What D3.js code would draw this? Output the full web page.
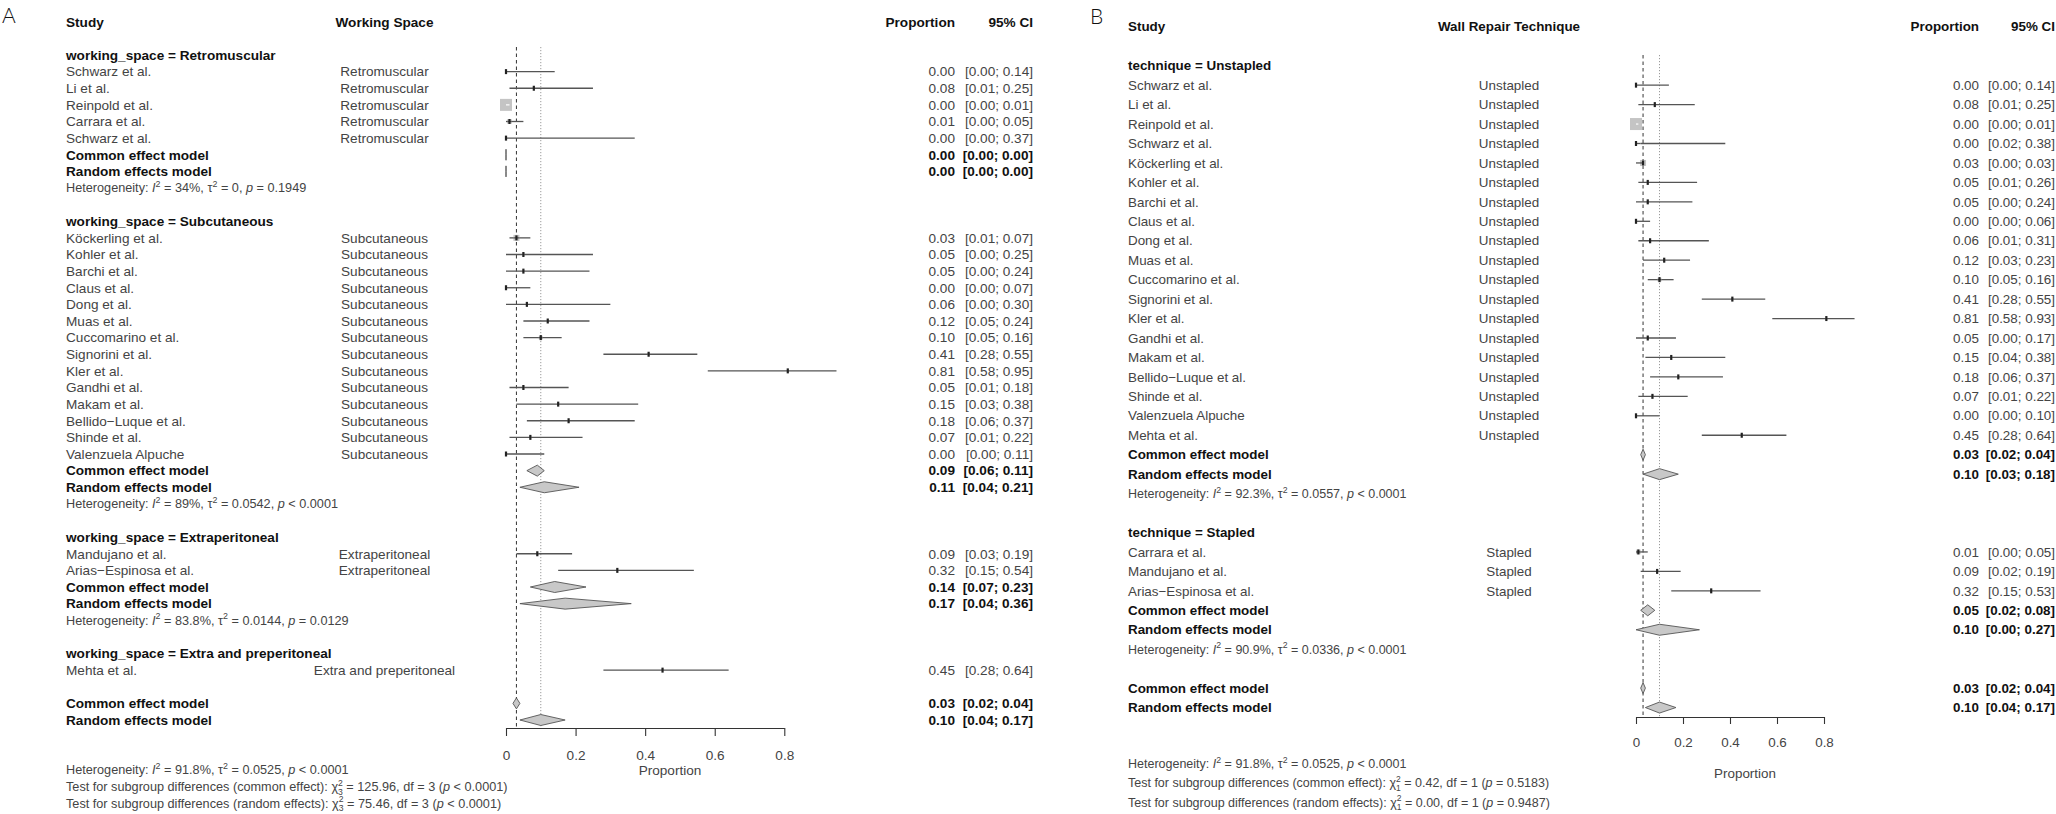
<!DOCTYPE html>
<html><head><meta charset="utf-8">
<script src="https://cdn.jsdelivr.net/npm/d3@7"></script>
<style>
body{margin:0;background:#fff}
svg{display:block}
text{font-family:"Liberation Sans",Arial,sans-serif}
</style>
</head><body>
<svg id="chart" width="2056" height="814"></svg>
<script>
// ================= DATA: Panel A (working space) =================
const aGroups = ["Retromuscular", "Subcutaneous", "Extraperitoneal", "Extra and preperitoneal"];
const aStudies = ["Schwarz et al.", "Li et al.", "Reinpold et al.", "Carrara et al.", "Schwarz et al.",
  "Köckerling et al.", "Kohler et al.", "Barchi et al.", "Claus et al.", "Dong et al.", "Muas et al.",
  "Cuccomarino et al.", "Signorini et al.", "Kler et al.", "Gandhi et al.", "Makam et al.",
  "Bellido\u2212Luque et al.", "Shinde et al.", "Valenzuela Alpuche",
  "Mandujano et al.", "Arias\u2212Espinosa et al.", "Mehta et al."];
const aGroupIdx = [0,0,0,0,0, 1,1,1,1,1,1,1,1,1,1,1,1,1,1, 2,2, 3];
const aEst  = [0.00,0.08,0.00,0.01,0.00, 0.03,0.05,0.05,0.00,0.06,0.12,0.10,0.41,0.81,0.05,0.15,0.18,0.07,0.00, 0.09,0.32, 0.45];
const aLow  = [0.00,0.01,0.00,0.00,0.00, 0.01,0.00,0.00,0.00,0.00,0.05,0.05,0.28,0.58,0.01,0.03,0.06,0.01,0.00, 0.03,0.15, 0.28];
const aHigh = [0.14,0.25,0.01,0.05,0.37, 0.07,0.25,0.24,0.07,0.30,0.24,0.16,0.55,0.95,0.18,0.38,0.37,0.22,0.11, 0.19,0.54, 0.64];
const aWeight = [1.2,1.2,48,7,0.8, 12,1.2,1.2,1.4,1.0,1.6,5,1.6,0.9,1.4,1.0,1.1,1.3,1.4, 1.5,1.0, 1.0];
const aCommon = [[0.00,0.00,0.00],[0.09,0.06,0.11],[0.14,0.07,0.23],null];
const aRandom = [[0.00,0.00,0.00],[0.11,0.04,0.21],[0.17,0.04,0.36],null];
const aHetI2   = ["34%", "89%", "83.8%", null];
const aHetTau2 = ["0", "0.0542", "0.0144", null];
const aHetP    = ["= 0.1949", "< 0.0001", "= 0.0129", null];
const aOverallCommon = [0.03,0.02,0.04];
const aOverallRandom = [0.10,0.04,0.17];
const aOverallHet = ["91.8%", "0.0525", "< 0.0001"];
const aTestCommon = ["3", "125.96", "3", "< 0.0001"];   // subscript df, chi2, df, p
const aTestRandom = ["3", "75.46", "3", "< 0.0001"];

// ================= DATA: Panel B (wall repair technique) =================
const bGroups = ["Unstapled", "Stapled"];
const bStudies = ["Schwarz et al.", "Li et al.", "Reinpold et al.", "Schwarz et al.", "Köckerling et al.",
  "Kohler et al.", "Barchi et al.", "Claus et al.", "Dong et al.", "Muas et al.", "Cuccomarino et al.",
  "Signorini et al.", "Kler et al.", "Gandhi et al.", "Makam et al.", "Bellido\u2212Luque et al.",
  "Shinde et al.", "Valenzuela Alpuche", "Mehta et al.",
  "Carrara et al.", "Mandujano et al.", "Arias\u2212Espinosa et al."];
const bGroupIdx = [0,0,0,0,0,0,0,0,0,0,0,0,0,0,0,0,0,0,0, 1,1,1];
const bEst  = [0.00,0.08,0.00,0.00,0.03,0.05,0.05,0.00,0.06,0.12,0.10,0.41,0.81,0.05,0.15,0.18,0.07,0.00,0.45, 0.01,0.09,0.32];
const bLow  = [0.00,0.01,0.00,0.02,0.00,0.01,0.00,0.00,0.01,0.03,0.05,0.28,0.58,0.00,0.04,0.06,0.01,0.00,0.28, 0.00,0.02,0.15];
const bHigh = [0.14,0.25,0.01,0.38,0.03,0.26,0.24,0.06,0.31,0.23,0.16,0.55,0.93,0.17,0.38,0.37,0.22,0.10,0.64, 0.05,0.19,0.53];
const bWeight = [1.2,1.2,48,0.8,12,1.2,1.2,1.4,1.0,1.6,5,1.6,0.9,1.4,1.0,1.1,1.3,1.4,1.0, 7,1.5,1.0];
const bCommon = [[0.03,0.02,0.04],[0.05,0.02,0.08]];
const bRandom = [[0.10,0.03,0.18],[0.10,0.00,0.27]];
const bHetI2   = ["92.3%", "90.9%"];
const bHetTau2 = ["0.0557", "0.0336"];
const bHetP    = ["< 0.0001", "< 0.0001"];
const bOverallCommon = [0.03,0.02,0.04];
const bOverallRandom = [0.10,0.04,0.17];
const bOverallHet = ["91.8%", "0.0525", "< 0.0001"];
const bTestCommon = ["1", "0.42", "1", "= 0.5183"];
const bTestRandom = ["1", "0.00", "1", "= 0.9487"];

const xTicks = [0, 0.2, 0.4, 0.6, 0.8];
const xDomain = [0, 0.8];

// ================= DRAWING =================
const svg = d3.select("#chart");
const REG = "#444", BOLD = "#111";
const f2 = d3.format(".2f");

function txt(g, x, y, s, fs, opt = {}) {
  return g.append("text").attr("x", x).attr("y", y + fs * 0.35)
    .attr("text-anchor", opt.anchor || "start")
    .attr("fill", opt.bold ? BOLD : (opt.color || REG))
    .style("font-size", fs + "px")
    .style("font-weight", opt.bold ? "bold" : "normal")
    .text(s);
}

function hetLine(g, x, y, fs, i2, tau2, p) {
  const t = g.append("text").attr("x", x).attr("y", y + fs * 0.35).attr("fill", REG).style("font-size", fs + "px");
  const up = fs * 0.42, ss = (fs * 0.7) + "px";
  t.append("tspan").text("Heterogeneity: ");
  t.append("tspan").style("font-style", "italic").text("I");
  t.append("tspan").attr("dy", -up).style("font-size", ss).text("2");
  t.append("tspan").attr("dy", up).text(` = ${i2}, \u03C4`);
  t.append("tspan").attr("dy", -up).style("font-size", ss).text("2");
  t.append("tspan").attr("dy", up).text(` = ${tau2}, `);
  t.append("tspan").style("font-style", "italic").text("p");
  t.append("tspan").text(` ${p}`);
}

function testLine(g, x, y, fs, label, T) {
  const t = g.append("text").attr("x", x).attr("y", y + fs * 0.35).attr("fill", REG).style("font-size", fs + "px");
  const up = fs * 0.42, dn = fs * 0.70, ss = fs * 0.68;
  t.append("tspan").text(`Test for subgroup differences (${label}): \u03C7`);
  t.append("tspan").attr("dy", -up).style("font-size", ss + "px").text("2");
  t.append("tspan").attr("dx", -ss * 0.556).attr("dy", dn).style("font-size", ss + "px").text(T[0]);
  t.append("tspan").attr("dy", up - dn).text(` = ${T[1]}, df = ${T[2]} (`);
  t.append("tspan").style("font-style", "italic").text("p");
  t.append("tspan").text(` ${T[3]})`);
}

function drawPanel(P, D) {
  const g = svg.append("g");
  const x = d3.scaleLinear().domain(xDomain).range([P.x0px, P.x1px]);
  const y = k => P.rowY0 + k * P.rowH;
  const sq = d3.scaleSqrt().domain([0, d3.max(D.weight)]).range([0, P.maxSquare]);

  // panel letter
  g.append("text").attr("x", P.letterX).attr("y", P.letterY).text(P.letter)
    .attr("fill", "#111")
    .style("font-family", "Lato,'Liberation Sans',sans-serif").style("font-weight", 300)
    .style("font-size", P.letterSize + "px");

  // column headers
  txt(g, P.textX, P.headerY, "Study", P.fs, {bold: true});
  txt(g, P.colCenter, P.headerY, P.colHeader, P.fs, {bold: true, anchor: "middle"});
  txt(g, P.estRight, P.headerY, "Proportion", P.fs, {bold: true, anchor: "end"});
  txt(g, P.ciRight, P.headerY, "95% CI", P.fs, {bold: true, anchor: "end"});

  // build the row layout
  const rows = [];
  let k = 0;
  D.groups.forEach((name, gi) => {
    rows.push({type: "heading", k: k++, label: `${P.prefix} = ${name}`});
    D.studies.forEach((s, i) => { if (D.groupIdx[i] === gi) rows.push({type: "study", k: k++, i}); });
    if (D.common[gi]) {
      rows.push({type: "common", k: k++, v: D.common[gi]});
      rows.push({type: "random", k: k++, v: D.random[gi]});
      rows.push({type: "het", k: k++, gi});
    }
    k++;
  });
  rows.push({type: "common", k: k++, v: D.overallCommon});
  rows.push({type: "random", k: k++, v: D.overallRandom});
  const lastK = k - 1;

  // reference lines
  g.append("line").attr("x1", x(D.overallCommon[0])).attr("x2", x(D.overallCommon[0]))
    .attr("y1", P.refTop).attr("y2", P.axisY)
    .attr("stroke", "#333").attr("stroke-width", 1).attr("stroke-dasharray", "3.5,3");
  g.append("line").attr("x1", x(D.overallRandom[0])).attr("x2", x(D.overallRandom[0]))
    .attr("y1", P.refTop).attr("y2", P.axisY)
    .attr("stroke", "#9a9a9a").attr("stroke-width", 1).attr("stroke-dasharray", "1.2,1.8");

  const diamond = (v, yy) => {
    const h = P.diamondH;
    return `M${x(v[1])},${yy}L${x(v[0])},${yy - h}L${x(v[2])},${yy}L${x(v[0])},${yy + h}Z`;
  };

  rows.forEach(r => {
    const yy = y(r.k);
    if (r.type === "heading") {
      txt(g, P.textX, yy, r.label, P.fs, {bold: true});
    } else if (r.type === "study") {
      const i = r.i;
      txt(g, P.textX, yy, D.studies[i], P.fs);
      txt(g, P.colCenter, yy, D.groups[D.groupIdx[i]], P.fs, {anchor: "middle"});
      txt(g, P.estRight, yy, f2(D.est[i]), P.fs, {anchor: "end"});
      txt(g, P.ciRight, yy, `[${f2(D.low[i])}; ${f2(D.high[i])}]`, P.fs, {anchor: "end"});
      const s = Math.max(sq(D.weight[i]), 1.5);
      const xl = x(D.low[i]), xh = x(D.high[i]), xe = x(D.est[i]);
      const inside = (xl >= xe - s / 2) && (xh <= xe + s / 2);
      if (!inside) {
        g.append("line").attr("x1", xl).attr("x2", xh).attr("y1", yy).attr("y2", yy)
          .attr("stroke", "#555").attr("stroke-width", 1.3);
      }
      g.append("rect").attr("x", xe - s / 2).attr("y", yy - s / 2).attr("width", s).attr("height", s)
        .attr("fill", "#c4c4c4");
      if (inside) {
        g.append("line").attr("x1", xl).attr("x2", xh).attr("y1", yy).attr("y2", yy)
          .attr("stroke", "#fff").attr("stroke-width", 1.2);
      } else {
        g.append("line").attr("x1", Math.max(xl, xe - s / 2)).attr("x2", Math.min(xh, xe + s / 2))
          .attr("y1", yy).attr("y2", yy).attr("stroke", "#555").attr("stroke-width", 1.3);
        g.append("rect").attr("x", xe - 1.1).attr("y", yy - 2.5).attr("width", 2.2).attr("height", 5)
          .attr("fill", "#222");
      }
    } else if (r.type === "common" || r.type === "random") {
      txt(g, P.textX, yy, r.type === "common" ? "Common effect model" : "Random effects model", P.fs, {bold: true});
      txt(g, P.estRight, yy, f2(r.v[0]), P.fs, {bold: true, anchor: "end"});
      txt(g, P.ciRight, yy, `[${f2(r.v[1])}; ${f2(r.v[2])}]`, P.fs, {bold: true, anchor: "end"});
      g.append("path").attr("d", diamond(r.v, yy))
        .attr("fill", "#c8c8c8").attr("stroke", "#555").attr("stroke-width", 0.9);
    } else if (r.type === "het") {
      hetLine(g, P.textX, yy, P.fsHet, D.hetI2[r.gi], D.hetTau2[r.gi], D.hetP[r.gi]);
    }
  });

  // x axis
  const axis = d3.axisBottom(x).tickValues(xTicks)
    .tickFormat(d => d === 0 ? "0" : d3.format(".1f")(d))
    .tickSize(P.tickLen).tickSizeOuter(0).tickPadding(P.tickPad);
  const ax = g.append("g").attr("transform", `translate(0,${P.axisY})`).call(axis);
  ax.select(".domain").attr("stroke", "#333").attr("stroke-width", 1.1);
  ax.selectAll(".tick line").attr("stroke", "#333").attr("stroke-width", 1.1);
  ax.selectAll(".tick text").attr("fill", REG)
    .style("font-size", P.fs + "px").style("font-family", "'Liberation Sans',Arial,sans-serif");
  txt(g, P.xlabX, P.xlabY, "Proportion", P.fs, {anchor: "middle"});

  // overall heterogeneity and subgroup tests
  const kb = lastK + 3;
  hetLine(g, P.textX, y(kb) + P.bottomShift, P.fsHet, D.overallHet[0], D.overallHet[1], D.overallHet[2]);
  testLine(g, P.textX, y(kb + 1) + P.bottomShift, P.fsHet, "common effect", D.testCommon);
  testLine(g, P.textX, y(kb + 2) + P.bottomShift, P.fsHet, "random effects", D.testRandom);
}

drawPanel({
  letter: "A", letterX: 2, letterY: 23, letterSize: 21,
  textX: 66, headerY: 22, colHeader: "Working Space", colCenter: 384.5,
  estRight: 955, ciRight: 1033, x0px: 506, x1px: 784.3,
  rowY0: 55, rowH: 16.625, fs: 13.6, fsHet: 12.7, diamondH: 5.5, maxSquare: 12,
  refTop: 47, axisY: 728, tickLen: 8, tickPad: 14, xlabX: 670, xlabY: 770, bottomShift: 0,
  prefix: "working_space"
}, {
  groups: aGroups, studies: aStudies, groupIdx: aGroupIdx, est: aEst, low: aLow, high: aHigh,
  weight: aWeight, common: aCommon, random: aRandom, hetI2: aHetI2, hetTau2: aHetTau2, hetP: aHetP,
  overallCommon: aOverallCommon, overallRandom: aOverallRandom, overallHet: aOverallHet,
  testCommon: aTestCommon, testRandom: aTestRandom
});

drawPanel({
  letter: "B", letterX: 1090, letterY: 24, letterSize: 21,
  textX: 1128, headerY: 26, colHeader: "Wall Repair Technique", colCenter: 1509,
  estRight: 1979, ciRight: 2055, x0px: 1636, x1px: 1824,
  rowY0: 65.7, rowH: 19.45, fs: 13.4, fsHet: 12.5, diamondH: 5.5, maxSquare: 12,
  refTop: 55, axisY: 717, tickLen: 7, tickPad: 13, xlabX: 1745, xlabY: 773, bottomShift: -2.5,
  prefix: "technique"
}, {
  groups: bGroups, studies: bStudies, groupIdx: bGroupIdx, est: bEst, low: bLow, high: bHigh,
  weight: bWeight, common: bCommon, random: bRandom, hetI2: bHetI2, hetTau2: bHetTau2, hetP: bHetP,
  overallCommon: bOverallCommon, overallRandom: bOverallRandom, overallHet: bOverallHet,
  testCommon: bTestCommon, testRandom: bTestRandom
});
</script>
</body></html>
